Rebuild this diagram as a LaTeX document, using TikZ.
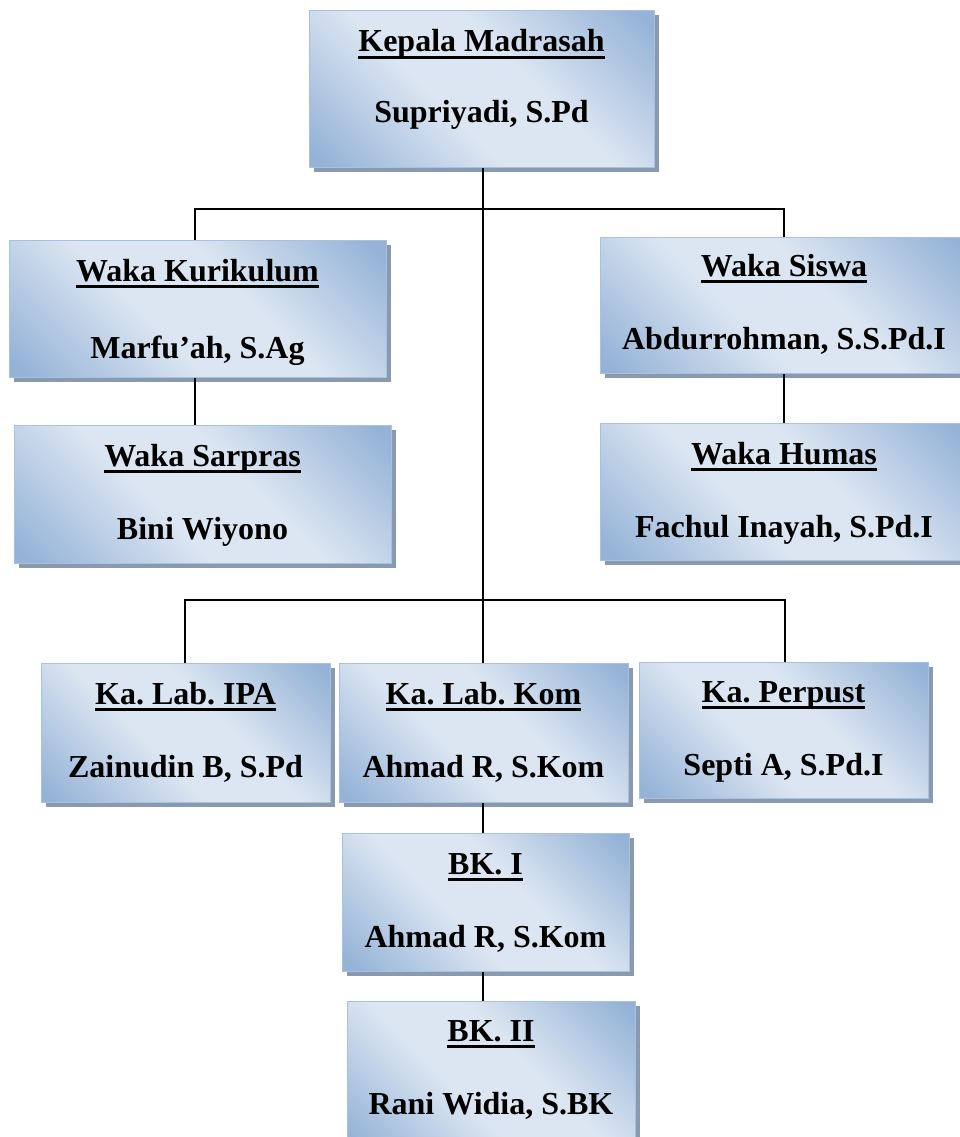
\documentclass[tikz,border=0pt]{standalone}
\usepackage{fontspec}
\setmainfont{Liberation Serif}
\usetikzlibrary{shadows}
\frenchspacing
\definecolor{boxdark}{HTML}{95B3D7}
\definecolor{boxlight}{HTML}{DCE6F2}
\definecolor{boxborder}{HTML}{A9C1E0}
\definecolor{boxshadow}{HTML}{8A9AAE}
\pgfdeclareverticalshading{orgshade}{100bp}{color(0bp)=(boxdark); color(17bp)=(boxdark); color(42bp)=(boxlight); color(58bp)=(boxlight); color(83bp)=(boxdark); color(100bp)=(boxdark)}
\tikzset{
  orgbox/.style={rectangle, anchor=north west, inner sep=0pt,
    draw=boxborder, line width=1.2pt,
    shading=orgshade, shading angle=-45,
    drop shadow={shadow xshift=4pt, shadow yshift=-4pt, fill=boxshadow, opacity=1}},
  orgtext/.style={anchor=base, inner sep=0pt, font=\fontsize{32}{38}\selectfont\bfseries\frenchspacing},
  ulline/.style={line width=2.4pt, black},
  conn/.style={line width=1.4pt, black},
}
\begin{document}
\begin{tikzpicture}[x=1pt,y=-1pt]
\useasboundingbox (0,0) rectangle (960,1137);
\clip (0,0) rectangle (960,1137);

% boxes
\node[orgbox, minimum width=345pt, minimum height=157pt] (kep) at (309,10) {};
\node[orgbox, minimum width=377pt, minimum height=137pt] (kur) at (9,240) {};
\node[orgbox, minimum width=377pt, minimum height=138pt] (sar) at (14,425) {};
\node[orgbox, minimum width=368pt, minimum height=136pt] (sis) at (600,237) {};
\node[orgbox, minimum width=368pt, minimum height=137pt] (hum) at (600,423) {};
\node[orgbox, minimum width=289pt, minimum height=139pt] (ipa) at (41,663) {};
\node[orgbox, minimum width=289pt, minimum height=139pt] (kom) at (339,663) {};
\node[orgbox, minimum width=289pt, minimum height=136pt] (per) at (639,662) {};
\node[orgbox, minimum width=287pt, minimum height=138pt] (bka) at (342,833) {};
\node[orgbox, minimum width=288pt, minimum height=150pt] (bkb) at (347,1001) {};

% texts
\node[orgtext] (kepT) at (481.5,52) {Kepala Madrasah};
\node[orgtext] (kepN) at (481.5,123) {Supriyadi, S.Pd};
\node[orgtext] (kurT) at (197.5,281) {Waka Kurikulum};
\node[orgtext] (kurN) at (197.5,358) {Marfu’ah, S.Ag};
\node[orgtext] (sarT) at (202.5,466) {Waka Sarpras};
\node[orgtext] (sarN) at (202.5,539) {Bini Wiyono};
\node[orgtext] (sisT) at (784,276) {Waka Siswa};
\node[orgtext] (sisN) at (784,349) {Abdurrohman, S.S.Pd.I};
\node[orgtext] (humT) at (784,464) {Waka Humas};
\node[orgtext] (humN) at (784,537) {Fachul Inayah, S.Pd.I};
\node[orgtext] (ipaT) at (185.5,704) {Ka. Lab. IPA};
\node[orgtext] (ipaN) at (185.5,777) {Zainudin B, S.Pd};
\node[orgtext] (komT) at (483.5,704) {Ka. Lab. Kom};
\node[orgtext] (komN) at (483.5,777) {Ahmad R, S.Kom};
\node[orgtext] (perT) at (783.5,702) {Ka. Perpust};
\node[orgtext] (perN) at (783.5,775) {Septi A, S.Pd.I};
\node[orgtext] (bkaT) at (485.5,874) {BK. I};
\node[orgtext] (bkaN) at (485.5,947) {Ahmad R, S.Kom};
\node[orgtext] (bkbT) at (491,1041) {BK. II};
\node[orgtext] (bkbN) at (491,1114) {Rani Widia, S.BK};

% underlines
\foreach \t in {kepT,kurT,sarT,sisT,humT,ipaT,komT,perT,bkaT,bkbT}
  \draw[ulline] ([yshift=-5.5pt]\t.base west) -- ([yshift=-5.5pt]\t.base east);

% connectors
\coordinate (top) at (483,209);
\draw[conn] (kep.south -| top) -- (kom.north -| top);
\draw[conn] (kur.north -| 195,0) -- (195,209) -- (784,209) -- (sis.north -| 784,0);
\draw[conn] (ipa.north -| 185,0) -- (185,600) -- (785,600) -- (per.north -| 785,0);
\draw[conn] (kur.south -| 195,0) -- (sar.north -| 195,0);
\draw[conn] (sis.south -| 784,0) -- (hum.north -| 784,0);
\draw[conn] (kom.south -| 483,0) -- (bka.north -| 483,0);
\draw[conn] (bka.south -| 483,0) -- (bkb.north -| 483,0);
\end{tikzpicture}
\end{document}
